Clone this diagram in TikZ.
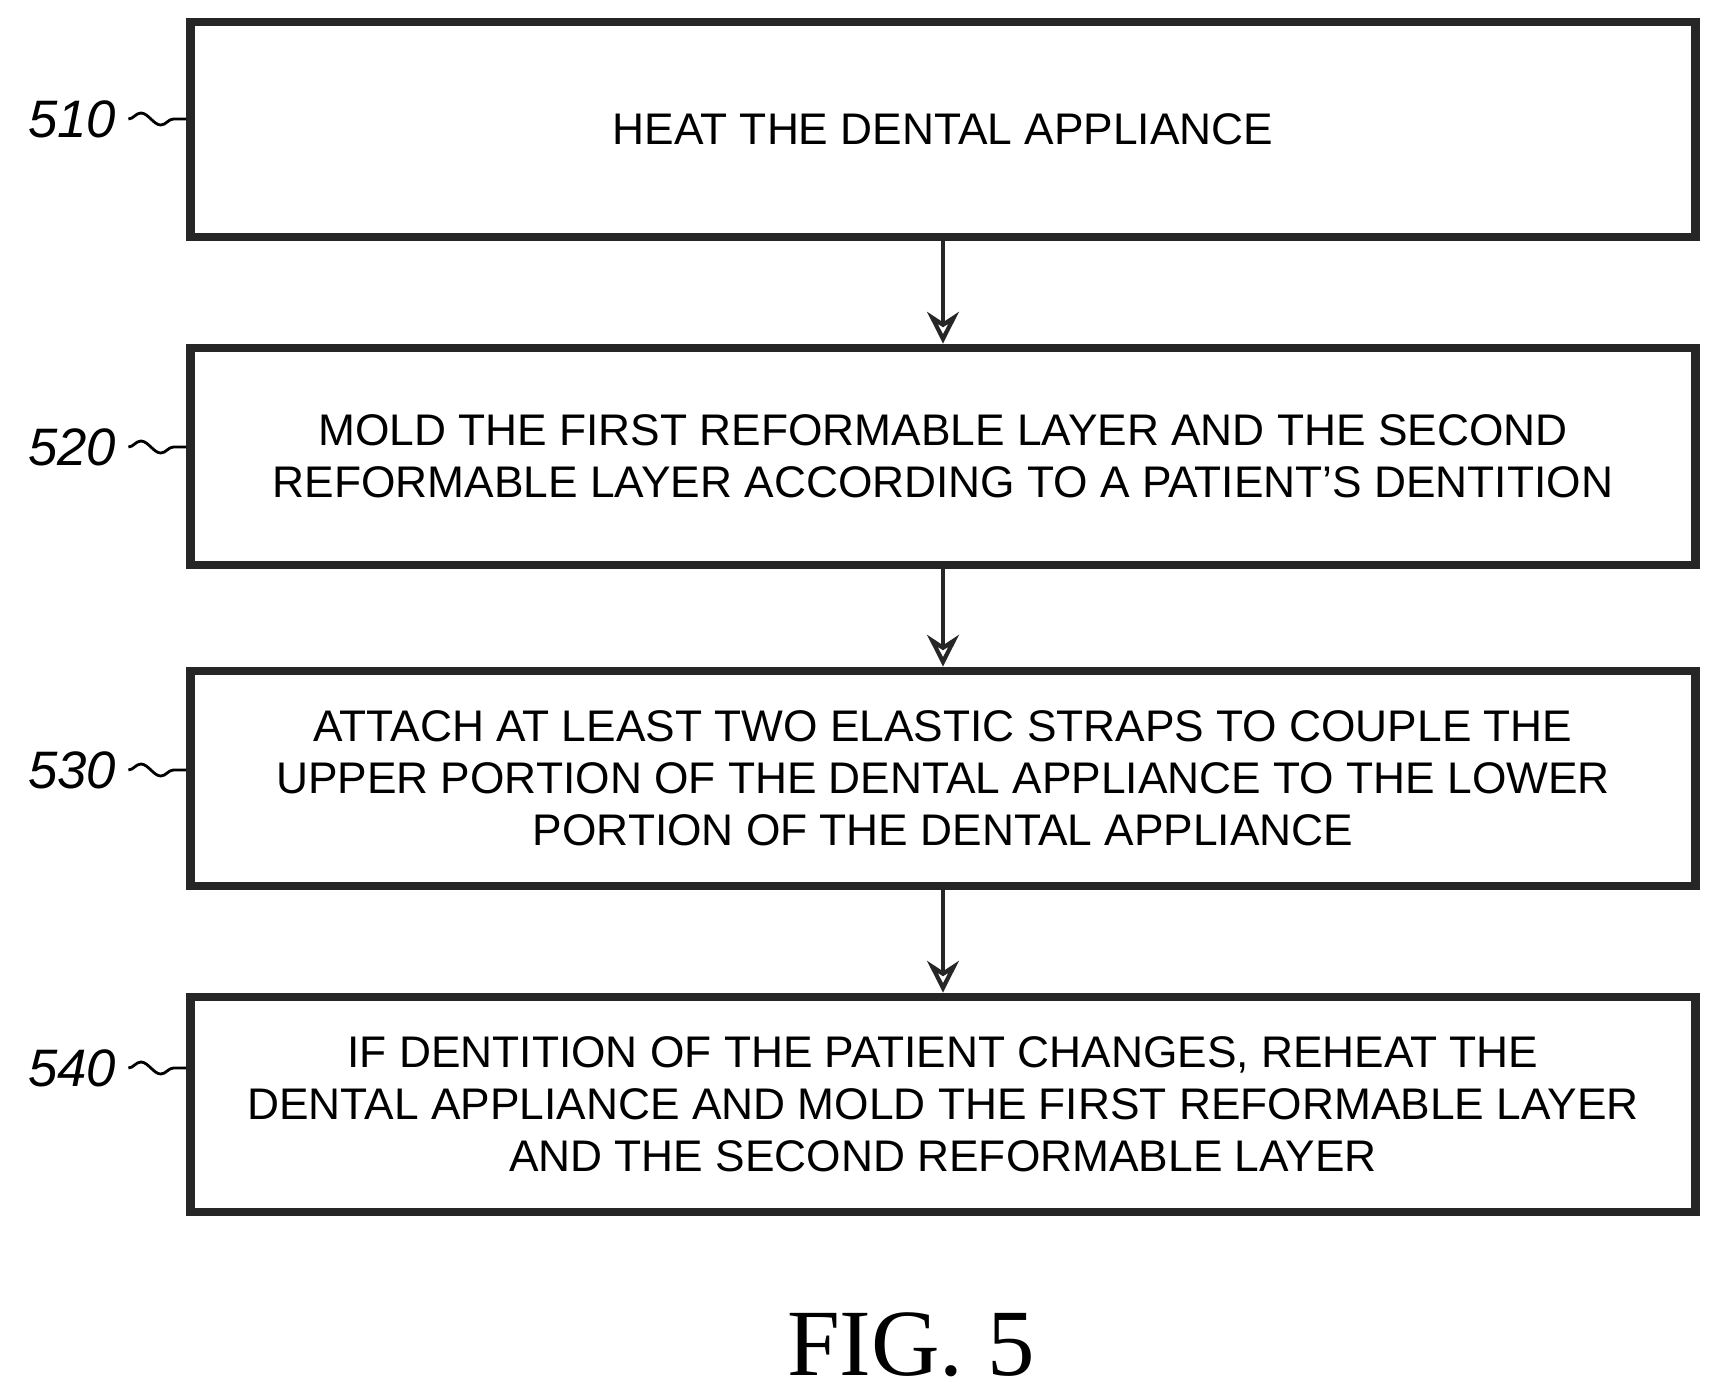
\documentclass[tikz,border=0pt]{standalone}
\usepackage{fontspec}
\setmainfont{Liberation Sans}
\newfontfamily\figfont{Liberation Serif}
\usetikzlibrary{arrows.meta,positioning,decorations.pathmorphing}
\tikzset{
  stepbox/.style={draw=black!85,line width=2.5pt,minimum width=15.05cm,align=center,font=\fontsize{12.6}{14.8}\selectfont},
  flow/.style={-{Stealth[open,length=9pt,width=9pt]},line width=1.2pt,black!85},
  tag/.style={font=\fontsize{15}{18}\selectfont\itshape}
}
\begin{document}
\begin{tikzpicture}
\useasboundingbox (0,0) rectangle (17.22,-13.99);
		\node[stepbox,minimum height=2.15cm] (s510) at (9.43,-1.295) {HEAT THE DENTAL APPLIANCE};
		\node[stepbox,minimum height=2.17cm] (s520) at (9.43,-4.565) {MOLD THE FIRST REFORMABLE LAYER AND THE SECOND\\REFORMABLE LAYER ACCORDING TO A PATIENT'S DENTITION};
		\node[stepbox,minimum height=2.15cm] (s530) at (9.43,-7.785) {ATTACH AT LEAST TWO ELASTIC STRAPS TO COUPLE THE\\UPPER PORTION OF THE DENTAL APPLIANCE TO THE LOWER\\PORTION OF THE DENTAL APPLIANCE};
		\node[stepbox,minimum height=2.15cm] (s540) at (9.43,-11.045) {IF DENTITION OF THE PATIENT CHANGES, REHEAT THE\\DENTAL APPLIANCE AND MOLD THE FIRST REFORMABLE LAYER\\AND THE SECOND REFORMABLE LAYER};
		\draw[flow] (s510)--(s520);
		\draw[flow] (s520)--(s530);
		\draw[flow] (s530)--(s540);
		\foreach \n/\y in {510/1.19,520/4.47,530/7.70,540/10.68}{
			\node[tag] (l\n) at (0.72,-\y) {\n};
			\draw[line width=0.8pt,decorate,decoration={snake,amplitude=0.6mm,segment length=4mm}] (l\n.east)--(s\n.west|-l\n.east);
		}
		\node[font=\fontsize{27}{30}\figfont] (fig) at (9.11,-13.45) {FIG. 5};
\end{tikzpicture}
\end{document}
